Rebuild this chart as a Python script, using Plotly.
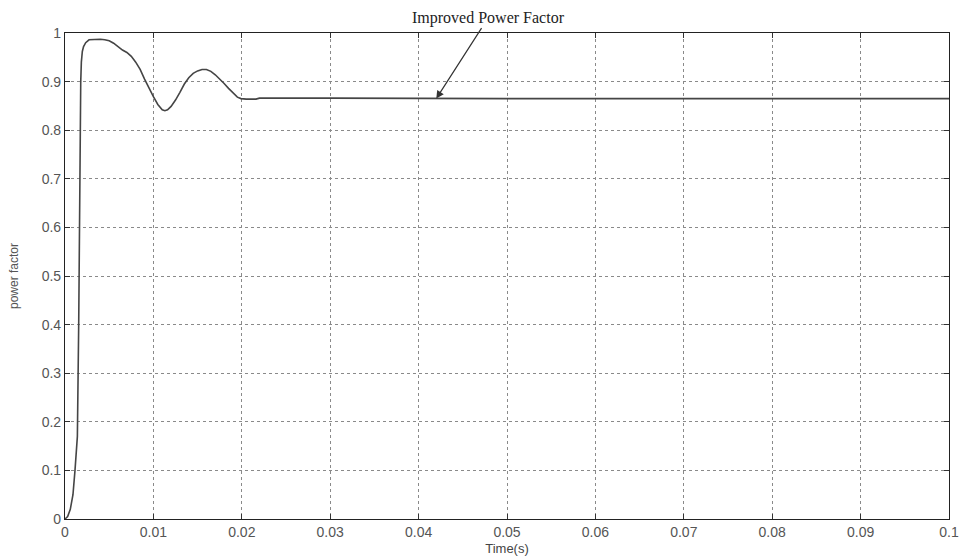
import plotly.graph_objects as go

# Time (s) and power factor
time_s = [0, 0.0003, 0.0006, 0.0009, 0.00113, 0.0014, 0.00155, 0.00166, 0.00178,
          0.00185, 0.00196, 0.0021, 0.00234, 0.00272, 0.0034, 0.0040, 0.0045,
          0.0050, 0.0055, 0.0060, 0.0065, 0.0070, 0.0075, 0.0080, 0.0085,
          0.0090, 0.0095, 0.0100, 0.0105, 0.0110, 0.0113, 0.0116, 0.0120,
          0.0125, 0.0130, 0.0135, 0.0140, 0.0145, 0.0150, 0.0155, 0.0160,
          0.0165, 0.0170, 0.0175, 0.0180, 0.0185, 0.0190, 0.0195, 0.0199,
          0.0205, 0.0216, 0.022, 0.03, 0.04, 0.05, 0.06, 0.07, 0.08, 0.09, 0.1]
power_factor = [0, 0.005, 0.02, 0.05, 0.10, 0.17, 0.40, 0.70, 0.90,
                0.94, 0.962, 0.972, 0.980, 0.986, 0.987, 0.987, 0.986,
                0.984, 0.979, 0.972, 0.965, 0.960, 0.952, 0.940, 0.925,
                0.905, 0.886, 0.869, 0.853, 0.842, 0.840, 0.842, 0.849,
                0.862, 0.878, 0.895, 0.908, 0.917, 0.922, 0.925, 0.925,
                0.921, 0.914, 0.906, 0.896, 0.886, 0.876, 0.868, 0.865,
                0.864, 0.864, 0.866, 0.866, 0.865, 0.865, 0.865, 0.865, 0.865, 0.865, 0.865]

x_ticks = [0, 0.01, 0.02, 0.03, 0.04, 0.05, 0.06, 0.07, 0.08, 0.09, 0.1]
x_tick_labels = ["0", "0.01", "0.02", "0.03", "0.04", "0.05", "0.06", "0.07", "0.08", "0.09", "0.1"]
y_ticks = [0, 0.1, 0.2, 0.3, 0.4, 0.5, 0.6, 0.7, 0.8, 0.9, 1]
y_tick_labels = ["0", "0.1", "0.2", "0.3", "0.4", "0.5", "0.6", "0.7", "0.8", "0.9", "1"]

annotation_text = "Improved Power Factor"
annotation_point = (0.042, 0.865)

fig = go.Figure()
fig.add_trace(go.Scatter(x=time_s, y=power_factor, mode="lines",
                         line=dict(color="#454545", width=1.6), showlegend=False))

axis_common = dict(showline=True, linecolor="#222", linewidth=1.2, mirror="ticks",
                   ticks="inside", ticklen=5, tickcolor="#333",
                   showgrid=True, gridcolor="#8a8a8a", griddash="dot", gridwidth=1,
                   zeroline=False, automargin=False, ticklabeloverflow="allow",
                   tickfont=dict(family="Liberation Sans, Arial", size=14, color="#555"))

fig.update_xaxes(range=[0, 0.1], tickvals=x_ticks, ticktext=x_tick_labels,
                 title=dict(text="Time(s)", font=dict(family="Liberation Sans, Arial", size=13, color="#444"),
                            standoff=4),
                 **axis_common)
fig.update_yaxes(range=[0, 1], tickvals=y_ticks, ticktext=y_tick_labels,
                 title=dict(text="power factor", font=dict(family="Liberation Sans, Arial", size=12, color="#555555"),
                            standoff=20),
                 **axis_common)

fig.add_annotation(x=annotation_point[0], y=annotation_point[1], text=annotation_text,
                   showarrow=True, arrowhead=2, arrowsize=1.3, arrowwidth=1.2, arrowcolor="#333",
                   ax=52, ay=-81, font=dict(family="Liberation Serif, Times New Roman", size=16, color="#222"))

fig.update_layout(width=961, height=556, margin=dict(l=65, r=12, t=33, b=37, autoexpand=False),
                  paper_bgcolor="white", plot_bgcolor="white")

# remove the page's default body margin so the figure fills the window exactly
fig.write_html("out.html", config={"displayModeBar": False},
               post_script="document.body.style.margin='0';document.body.style.overflow='hidden';")
